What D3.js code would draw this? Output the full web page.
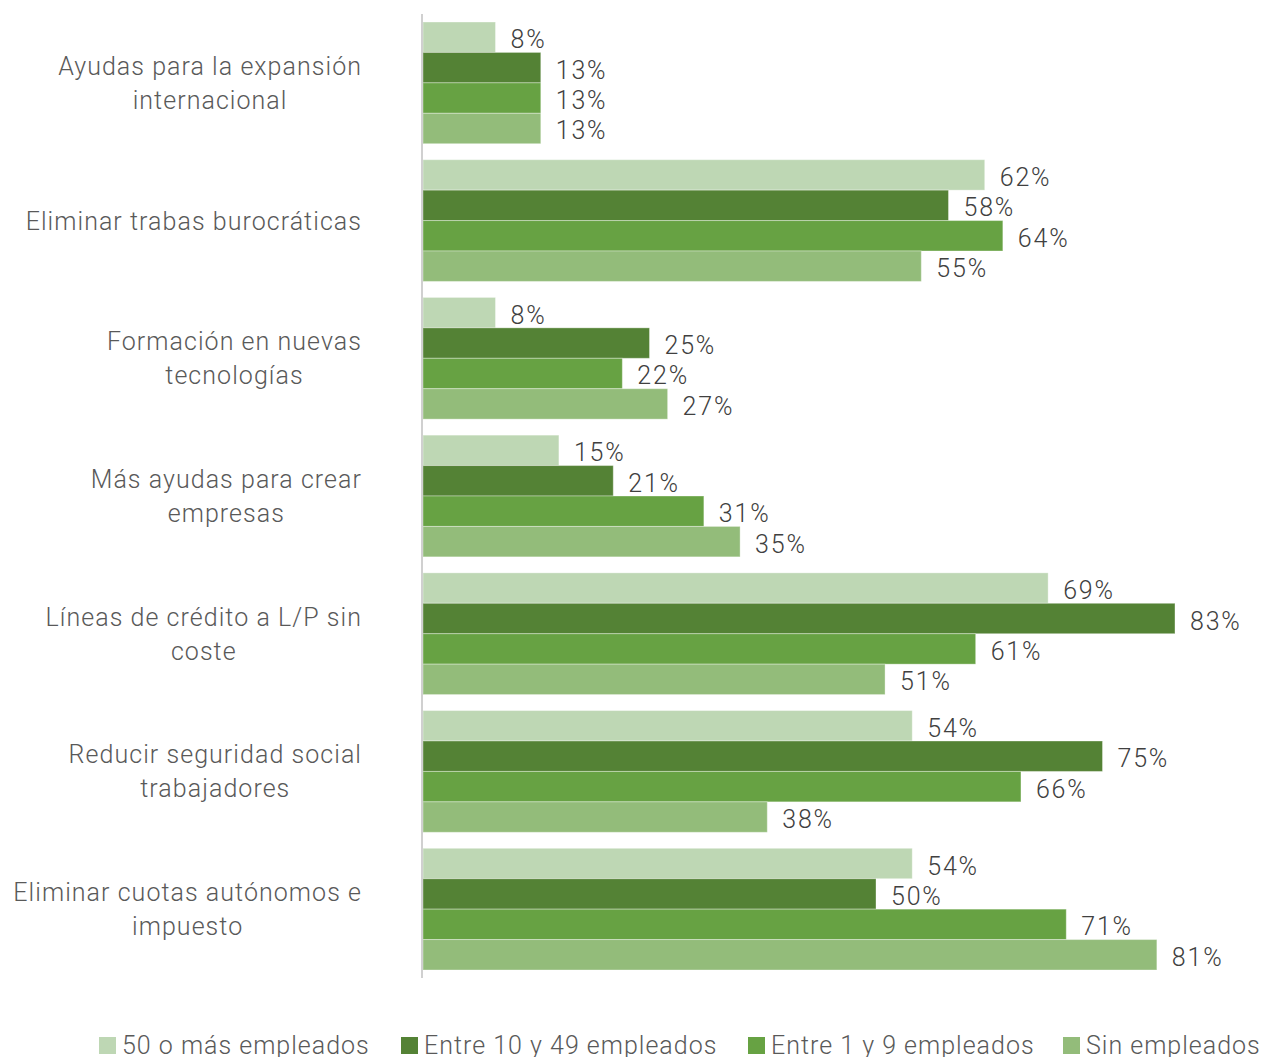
<!DOCTYPE html>
<html><head><meta charset="utf-8">
<script src="https://cdn.jsdelivr.net/npm/d3@7"></script>
<style>body{margin:0;background:#fff;} svg{display:block;font-family:Roboto, "Noto Sans", sans-serif;}</style>
</head><body><svg id="c" width="1266" height="1057"></svg>
<script>
const categories = [
  ["Ayudas para la expansión","internacional"],
  ["Eliminar trabas burocráticas"],
  ["Formación en nuevas","tecnologías"],
  ["Más ayudas para crear","empresas"],
  ["Líneas de crédito a L/P sin","coste"],
  ["Reducir seguridad social","trabajadores"],
  ["Eliminar cuotas autónomos e","impuesto"]
];
const seriesNames = ["50 o más empleados","Entre 10 y 49 empleados","Entre 1 y 9 empleados","Sin empleados"];
const s50 = [8,62,8,15,69,54,54];
const s10 = [13,58,25,21,83,75,50];
const s1  = [13,64,22,31,61,66,71];
const s0  = [13,55,27,35,51,38,81];
const seriesValues = [s50,s10,s1,s0];
const colors = ["#bed7b4","#548235","#67a243","#93bc7a"];

const svg = d3.select("#c");
const x0 = 423;
const x = d3.scaleLinear().domain([0,100]).range([x0, x0+906]);
const y = d3.scaleBand().domain(d3.range(categories.length)).range([14,978]).paddingInner(16/137.7).paddingOuter(8/137.7);
const yi = d3.scaleBand().domain(d3.range(seriesNames.length)).range([0,y.bandwidth()]);

const g = svg.append("g");
categories.forEach((c,ci)=>{
  seriesValues.forEach((vals,si)=>{
    const v = vals[ci];
    const yy = y(ci)+yi(si);
    g.append("rect").attr("x",x(0)).attr("y",yy).attr("width",x(v)-x(0)).attr("height",yi.bandwidth())
      .attr("fill",colors[si]).attr("stroke","#ffffff").attr("stroke-opacity",0.35).attr("stroke-width",1);
    g.append("text").attr("x",x(v)+15).attr("y",yy+yi.bandwidth()/2+11)
      .attr("font-size",25).attr("fill","#404040").attr("font-weight",300).attr("letter-spacing",1.8).text(v+"%");
  });
});
// axis line
svg.append("line").attr("x1",422).attr("x2",422).attr("y1",14).attr("y2",978).attr("stroke","#d0d0d0").attr("stroke-width",2);

// category labels
categories.forEach((lines,ci)=>{
  const cy = y(ci)+y.bandwidth()/2;
  const grp = svg.append("g");
  const texts = lines.map((l,li)=>grp.append("text").attr("font-size",25).attr("fill","#595959").attr("font-weight",300)
     .attr("text-anchor","middle").attr("letter-spacing",1.05).text(l));
  const widths = texts.map(t=>t.node().getComputedTextLength());
  const mw = d3.max(widths);
  const cx = 362 - mw/2;
  const lh = 34;
  const top = cy - (lines.length-1)*lh/2;
  texts.forEach((t,li)=>t.attr("x",cx).attr("y",top+li*lh+9));
});

// legend
const legX = [99,401,748,1063];
seriesNames.forEach((n,i)=>{
  svg.append("rect").attr("x",legX[i]).attr("y",1037).attr("width",17).attr("height",17).attr("fill",colors[i]);
  svg.append("text").attr("x",legX[i]+23).attr("y",1054).attr("font-size",25).attr("fill","#595959").attr("font-weight",300).attr("letter-spacing",1.0).text(n);
});
</script></body></html>
